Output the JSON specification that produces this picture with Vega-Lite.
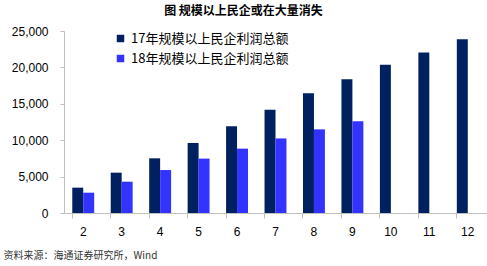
{
  "$schema": "https://vega.github.io/schema/vega-lite/v6.json",
  "width": 423,
  "height": 182,
  "autosize": {"type": "none"},
  "padding": {"left": 64, "top": 31, "right": 0, "bottom": 53},
  "background": "white",
  "config": {"view": {"stroke": null}, "font": "Liberation Sans"},
  "title": {
    "text": "图 规模以上民企或在大量消失",
    "font": "Noto Sans CJK SC",
    "fontSize": 12,
    "fontWeight": "bold",
    "color": "#000000",
    "anchor": "middle",
    "frame": "group",
    "dx": -32,
    "offset": 7
  },
  "data": {
    "values": [
      {"month": "2", "series": "17年规模以上民企利润总额", "value": 3480},
      {"month": "3", "series": "17年规模以上民企利润总额", "value": 5540},
      {"month": "4", "series": "17年规模以上民企利润总额", "value": 7510},
      {"month": "5", "series": "17年规模以上民企利润总额", "value": 9620},
      {"month": "6", "series": "17年规模以上民企利润总额", "value": 11910},
      {"month": "7", "series": "17年规模以上民企利润总额", "value": 14190},
      {"month": "8", "series": "17年规模以上民企利润总额", "value": 16440},
      {"month": "9", "series": "17年规模以上民企利润总额", "value": 18360},
      {"month": "10", "series": "17年规模以上民企利润总额", "value": 20380},
      {"month": "11", "series": "17年规模以上民企利润总额", "value": 22040},
      {"month": "12", "series": "17年规模以上民企利润总额", "value": 23870},
      {"month": "2", "series": "18年规模以上民企利润总额", "value": 2790},
      {"month": "3", "series": "18年规模以上民企利润总额", "value": 4300},
      {"month": "4", "series": "18年规模以上民企利润总额", "value": 5900},
      {"month": "5", "series": "18年规模以上民企利润总额", "value": 7470},
      {"month": "6", "series": "18年规模以上民企利润总额", "value": 8840},
      {"month": "7", "series": "18年规模以上民企利润总额", "value": 10240},
      {"month": "8", "series": "18年规模以上民企利润总额", "value": 11490},
      {"month": "9", "series": "18年规模以上民企利润总额", "value": 12590}
    ]
  },
  "mark": {"type": "bar"},
  "encoding": {
    "x": {
      "field": "month",
      "type": "ordinal",
      "sort": ["2","3","4","5","6","7","8","9","10","11","12"],
      "scale": {"paddingInner": 0.43, "paddingOuter": 0.215},
      "axis": {
        "title": "资料来源：海通证券研究所，Wind",
        "titleFont": "Noto Sans CJK SC",
        "titleFontSize": 10,
        "titleFontWeight": "normal",
        "titleColor": "#333333",
        "titleX": -61,
        "titleY": 42,
        "titleAlign": "left",
        "titleAnchor": "start",
        "titleBaseline": "middle",
        "labelAngle": 0,
        "labelFontSize": 12,
        "labelColor": "#000000",
        "labelPadding": 8,
        "domainColor": "#BFBFBF",
        "tickColor": "#BFBFBF",
        "tickSize": 5,
        "bandPosition": 0
      }
    },
    "xOffset": {"field": "series", "type": "nominal"},
    "y": {
      "field": "value",
      "type": "quantitative",
      "scale": {"domain": [0, 25000], "nice": false},
      "axis": {
        "title": null,
        "values": [0, 5000, 10000, 15000, 20000, 25000],
        "format": ",d",
        "grid": false,
        "labelFontSize": 12,
        "labelColor": "#000000",
        "labelPadding": 12,
        "domainColor": "#BFBFBF",
        "tickColor": "#BFBFBF",
        "tickSize": 4
      }
    },
    "color": {
      "field": "series",
      "type": "nominal",
      "scale": {"range": ["#002060", "#3333FF"]},
      "legend": {
        "title": null,
        "orient": "none",
        "legendX": 50,
        "legendY": 1,
        "symbolType": "square",
        "symbolSize": 56,
        "symbolStrokeWidth": 0,
        "labelFont": "Noto Sans CJK SC",
        "labelFontSize": 13,
        "labelColor": "#000000",
        "labelOffset": 4,
        "rowPadding": 6,
        "padding": 0
      }
    }
  }
}
